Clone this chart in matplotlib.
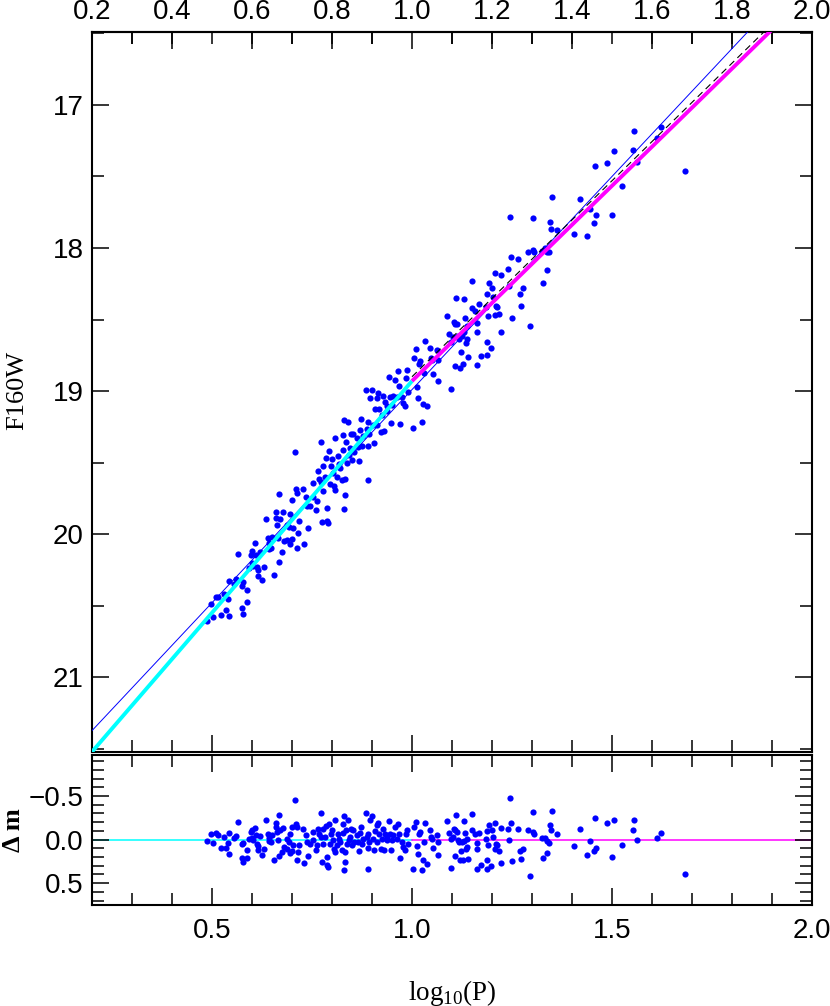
import numpy as np
import matplotlib
matplotlib.use('Agg')
import matplotlib.pyplot as plt
from matplotlib.ticker import MultipleLocator

plt.rcParams['font.family'] = ['Liberation Sans Narrow', 'Liberation Sans', 'DejaVu Sans']
plt.rcParams['mathtext.fontset'] = 'custom'
plt.rcParams['mathtext.rm'] = 'Liberation Serif'

# log10(P) and residual (mag - broken PL fit) of each star
logp = [0.487, 0.497, 0.503, 0.510, 0.516, 0.523, 0.531, 0.535, 0.541, 0.543, 0.543, 0.555, 0.560, 0.565, 0.574,
        0.578, 0.574, 0.577, 0.587, 0.588, 0.593, 0.598, 0.600, 0.601, 0.603, 0.608, 0.610, 0.613, 0.616, 0.616,
        0.620, 0.625, 0.630, 0.634, 0.641, 0.643, 0.643, 0.648, 0.649, 0.655, 0.659, 0.660, 0.662, 0.664, 0.668,
        0.668, 0.670, 0.674, 0.677, 0.681, 0.687, 0.688, 0.693, 0.695, 0.695, 0.699, 0.699, 0.703, 0.708, 0.710,
        0.713, 0.716, 0.717, 0.713,
        0.728, 0.730, 0.735, 0.741, 0.738, 0.745, 0.752, 0.753, 0.760, 0.762, 0.766, 0.768, 0.772, 0.772, 0.774,
        0.777, 0.778, 0.783, 0.785, 0.787, 0.788, 0.791, 0.793, 0.795, 0.797, 0.799, 0.803, 0.805, 0.808, 0.808,
        0.812, 0.816, 0.818, 0.820, 0.824, 0.827, 0.828, 0.831, 0.833, 0.833, 0.831, 0.835, 0.838, 0.841, 0.843,
        0.845, 0.847, 0.849, 0.853, 0.855, 0.862, 0.866, 0.868, 0.870, 0.873, 0.874, 0.878, 0.885, 0.887, 0.889,
        0.889, 0.891, 0.893, 0.895, 0.899, 0.902, 0.905, 0.908, 0.912, 0.913, 0.916, 0.918, 0.922, 0.924, 0.928,
        0.930, 0.933, 0.937, 0.938, 0.943, 0.945, 0.947, 0.950, 0.953, 0.958, 0.962, 0.966, 0.968, 0.970, 0.974,
        0.978, 0.983, 0.985, 0.988, 0.991,
        1.002, 1.005, 1.009, 1.012, 1.016, 1.018, 1.020, 1.024, 1.027, 1.030, 1.033, 1.038, 1.045, 1.047, 1.049,
        1.052, 1.062, 1.064, 1.066, 1.088, 1.093, 1.097, 1.097, 1.102, 1.105, 1.108, 1.108, 1.110, 1.113, 1.116,
        1.118, 1.120, 1.122, 1.124, 1.127, 1.130, 1.131, 1.133, 1.135, 1.137, 1.138, 1.141, 1.149, 1.149, 1.158,
        1.163, 1.163, 1.163, 1.167, 1.172, 1.185, 1.187, 1.188, 1.188, 1.191, 1.192, 1.197, 1.199, 1.203, 1.207,
        1.207, 1.210, 1.213, 1.218, 1.222, 1.223, 1.241, 1.243, 1.245, 1.248, 1.251, 1.266, 1.270,
        1.272, 1.277, 1.291, 1.295, 1.302, 1.303, 1.305, 1.324, 1.327, 1.333, 1.337, 1.338, 1.343, 1.345, 1.347,
        1.349, 1.362, 1.405, 1.420, 1.437, 1.445, 1.455, 1.458, 1.460, 1.488, 1.499, 1.505, 1.524,
        1.552, 1.556, 1.563, 1.613, 1.623, 1.683]

dm = [0.015, -0.069, 0.038, -0.080, -0.057, 0.092, -0.031, 0.092, 0.034, -0.080, 0.160, -0.023, -0.042, -0.202, 0.053,
      0.038, 0.210, 0.256, 0.122, 0.210, -0.011, -0.088, -0.023, -0.107, 0.008, -0.137, -0.050, 0.046, 0.076, 0.122,
      -0.038, 0.176, 0.103, -0.221, -0.069, -0.023, 0.019, 0.027, -0.050, 0.237, -0.191, -0.145, -0.088, 0.008, -0.286,
      0.191, -0.107, 0.141, -0.134, 0.084, -0.011, 0.103, 0.027, -0.061, 0.149, -0.145, 0.130, 0.065, -0.450, -0.183,
      0.237, 0.141, 0.065, -0.145,
      -0.126, 0.267, -0.050, 0.191, 0.027, 0.046, -0.088, 0.008, 0.122, 0.065, -0.126, -0.069, -0.309, -0.031, 0.256,
      0.046, -0.126, -0.031, -0.156, 0.198, 0.294, 0.313, -0.183, 0.053, -0.061, -0.107, 0.008, 0.103, 0.141, -0.221,
      0.065, -0.069, -0.011, 0.027, 0.122, -0.183, -0.076, -0.275, 0.141, 0.256, 0.344, -0.107, 0.046, -0.229, 0.008,
      -0.031, -0.126, 0.065, -0.107, 0.027, -0.050, 0.027, 0.130, -0.076, -0.145, 0.046, -0.011, -0.309, -0.031, 0.092,
      0.332, -0.069, 0.027, -0.221, -0.267, -0.011, 0.122, -0.099, -0.164, 0.027, -0.191, -0.069, 0.103, -0.011, -0.126,
      0.122, -0.069, -0.031, 0.008, -0.210, -0.069, 0.122, 0.008, -0.050, -0.145, -0.011, -0.183, -0.069, 0.206, 0.027,
      0.084, 0.122, -0.069, -0.115, 0.046,
      0.332, -0.145, -0.202, 0.076, 0.160, -0.069, -0.088, 0.351, 0.237, 0.027, -0.191, 0.275, -0.107, -0.031, -0.011,
      0.095, -0.050, 0.027, 0.179, -0.214, -0.076, -0.011, 0.321, -0.031, -0.126, -0.107, 0.191, -0.279, -0.088, 0.000,
      0.027, 0.237, 0.130, 0.027, 0.229, 0.015, -0.214, -0.076, 0.103, -0.011, 0.084, 0.218, -0.290, -0.107, -0.061,
      0.038, 0.103, 0.332, -0.080, 0.294, -0.011, -0.099, 0.237, 0.332, 0.065, -0.164, 0.305, -0.107, -0.031, -0.191,
      0.103, 0.046, 0.065, 0.130, -0.137, 0.267, -0.126, 0.000, -0.477, -0.191, 0.244, -0.126, 0.130,
      0.218, 0.103, -0.107, 0.420, -0.313, -0.088, -0.069, -0.023, 0.206, -0.023, 0.015, 0.149, 0.034, -0.172, -0.115,
      -0.332, -0.065, 0.076, -0.126, 0.179, 0.011, 0.134, -0.252, 0.092, -0.191, 0.202, -0.229, 0.065,
      -0.107, -0.229, 0.008, -0.023, -0.076, 0.397]

# PL relations  m = zp + slope * (logP - 1)
zp_short, slope_short = 18.93, -3.24   # logP < 1 (cyan)
zp_long, slope_long = 18.93, -2.73     # logP > 1 (magenta)
zp_ref, slope_ref = 18.99, -2.98       # thin blue
zp_dash, slope_dash = 18.90, -2.74     # dashed

logp = np.array(logp)
dm = np.array(dm)
fit = np.where(logp < 1, zp_short + slope_short * (logp - 1), zp_long + slope_long * (logp - 1))
mag = fit + dm

fig = plt.figure(figsize=(8.3, 10.06), dpi=100)
ax1 = fig.add_axes([92 / 830, 1 - 751.5 / 1006, 720 / 830, 719.5 / 1006])
ax2 = fig.add_axes([92 / 830, 1 - 905 / 1006, 720 / 830, 150 / 1006])

# top panel
x_all = np.array([0.2, 2.0])
x_s = np.array([0.2, 1.0])
x_l = np.array([1.0, 2.0])
ax1.scatter(logp, mag, s=20, color='#0000ff', linewidths=0, zorder=2)
ax1.plot(x_all, zp_ref + slope_ref * (x_all - 1), color='#0000ff', lw=0.7, zorder=3)
ax1.plot(x_l, zp_dash + slope_dash * (x_l - 1), color='black', lw=0.8, ls=(0, (6, 4)), zorder=3)
ax1.plot(x_s, zp_short + slope_short * (x_s - 1), color='#00ffff', lw=2.8, zorder=4, solid_capstyle='butt')
ax1.plot(x_l, zp_long + slope_long * (x_l - 1), color='#ff00ff', lw=2.8, zorder=4, solid_capstyle='butt')
ax1.set_xlim(0.2, 2.0)
ax1.set_ylim(21.52, 16.49)

# residual panel
ax2.plot(x_s, [0, 0], color='#00ffff', lw=1.1, zorder=1)
ax2.plot(x_l, [0, 0], color='#ff00ff', lw=1.1, zorder=1)
ax2.scatter(logp, dm, s=20, color='#0000ff', linewidths=0, zorder=2)
ax2.set_xlim(0.2, 2.0)
ax2.set_ylim(0.75, -0.97)

fs = 20
for ax in (ax1, ax2):
    for sp in ax.spines.values():
        sp.set_linewidth(1.5)
    ax.xaxis.set_major_locator(MultipleLocator(0.5))
    ax.xaxis.set_minor_locator(MultipleLocator(0.1))
    ax.tick_params(which='both', direction='in', top=True, right=True, width=1.1, labelsize=fs)
    ax.tick_params(which='major', length=12.5)
    ax.tick_params(which='minor', length=8.5)
    ax.tick_params(axis='y', pad=6)

ax1.tick_params(axis='x', labelbottom=False, top=False)
ax1.yaxis.set_major_locator(MultipleLocator(1))
ax1.yaxis.set_minor_locator(MultipleLocator(0.5))
ax1.set_yticks([17, 18, 19, 20, 21])

# top axis of upper panel with its own ticks
sec = ax1.secondary_xaxis('top')
sec.xaxis.set_major_locator(MultipleLocator(0.2))
sec.xaxis.set_minor_locator(MultipleLocator(0.1))
sec.tick_params(which='both', direction='in', width=1.1, labelsize=fs, pad=5)
sec.tick_params(which='major', length=12.5)
sec.tick_params(which='minor', length=8.5)
sec.spines['top'].set_linewidth(1.5)
sec.set_xticks([0.2, 0.4, 0.6, 0.8, 1.0, 1.2, 1.4, 1.6, 1.8, 2.0])
sec.set_xticklabels(['0.2', '0.4', '0.6', '0.8', '1.0', '1.2', '1.4', '1.6', '1.8', '2.0'])

ax2.yaxis.set_major_locator(MultipleLocator(0.5))
ax2.yaxis.set_minor_locator(MultipleLocator(0.1))
ax2.set_yticks([-0.5, 0.0, 0.5])
ax2.set_yticklabels(['\u22120.5', '0.0', '0.5'])
ax2.set_xticks([0.5, 1.0, 1.5, 2.0])
ax2.set_xticklabels(['0.5', '1.0', '1.5', '2.0'])
ax2.tick_params(axis='x', pad=9)

# axis titles
fig.text(17 / 830, 1 - 390 / 1006, 'F160W', rotation=90, ha='center', va='center',
         family='Liberation Serif', fontsize=19)
fig.text(14 / 830, 1 - 830 / 1006, '\u0394 m', rotation=90, ha='center', va='center',
         family='Liberation Serif', fontsize=19, fontweight='bold')
fig.text(452 / 830, 1 - 993 / 1006, r'log$_{10}$(P)', ha='center', va='center',
         family='Liberation Serif', fontsize=19.5)

fig.savefig('out.png', dpi=100)
